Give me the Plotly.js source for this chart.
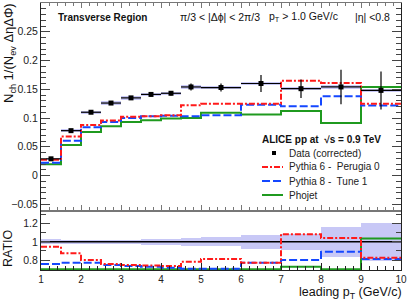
<!DOCTYPE html>
<html><head><meta charset="utf-8">
<script src="https://cdn.plot.ly/plotly-3.0.1.min.js"></script>
<style>html,body{margin:0;padding:0;background:#fff}#chart{width:414px;height:300px}</style>
</head><body><div id="chart"></div>
<script>
// ---- data ----
const binEdges   = [1, 1.5, 2, 2.5, 3, 3.5, 4, 4.5, 5, 6, 7, 8, 9, 10];
const dataVals   = [0.029, 0.078, 0.110, 0.126, 0.135, 0.141, 0.143, 0.154, 0.153, 0.160, 0.151, 0.154, 0.148];
const dataStat   = [0.002, 0.002, 0.002, 0.002, 0.002, 0.003, 0.004, 0.006, 0.007, 0.015, 0.016, 0.030, 0.033];
const dataSys    = [0.002, 0.003, 0.003, 0.003, 0.003, 0.003, 0.003, 0.003, 0.003, 0.003, 0.003, 0.003, 0.003];
const pythia6    = [0.0275, 0.068, 0.088, 0.0955, 0.102, 0.103, 0.105, 0.122, 0.125, 0.125, 0.165, 0.161, 0.125];
const pythia8    = [0.022, 0.0605, 0.0837, 0.093, 0.100, 0.103, 0.1037, 0.103, 0.105, 0.123, 0.1205, 0.138, 0.1217];
const phojet     = [0.0197, 0.053, 0.0757, 0.0855, 0.093, 0.096, 0.099, 0.100, 0.109, 0.106, 0.112, 0.0914, 0.154];
const ratioBand  = [0.027, 0.025, 0.025, 0.025, 0.025, 0.03, 0.035, 0.045, 0.05, 0.075, 0.085, 0.165, 0.21];
const ratioP6    = [0.945, 0.873, 0.80, 0.755, 0.745, 0.74, 0.735, 0.78, 0.81, 0.77, 1.084, 1.043, 0.825];
const ratioP8    = [0.755, 0.77, 0.77, 0.745, 0.735, 0.727, 0.716, 0.705, 0.705, 0.77, 0.80, 0.89, 0.81];
const ratioPhojet= [0.698, 0.698, 0.698, 0.698, 0.698, 0.698, 0.698, 0.698, 0.698, 0.698, 0.727, 0.698, 1.036];
const ratioRef   = [1, 1];
const xTickVals  = [1, 2, 3, 4, 5, 6, 7, 8, 9, 10];
const ratioTicks = [0.8, 1, 1.2];
const seriesNames = ['Data (corrected)', 'Pythia 6 -  Perugia 0', 'Pythia 8 -  Tune 1', 'Phojet'];

// ---- helpers ----
const centers = dataVals.map((_, i) => (binEdges[i] + binEdges[i + 1]) / 2);
const widths  = dataVals.map((_, i) => binEdges[i + 1] - binEdges[i]);
const halfW   = widths.map(w => w / 2);
const stepY = v => v.concat([v[v.length - 1]]);

const RED = '#ff1a1a', BLUE = '#1447ff', GREEN = '#1f9a1f', BAND = 'rgba(190,190,245,0.85)';
const FONT = 'Liberation Sans, Arial, Helvetica, sans-serif';
const L = 41, R = 401, T = 3, B = 270;
const px = x => (x - L) / (R - L);
const py = y => (B - y) / (B - T);
const dashP6 = '6px,2px,2px,2px';
const dashP8 = '8px,3px';

const traces = [
  {type: 'bar', x: centers, y: dataSys.map(s => 2 * s), base: dataVals.map((v, i) => v - dataSys[i]),
   width: widths, marker: {color: BAND, line: {width: 0}}, xaxis: 'x', yaxis: 'y', hoverinfo: 'skip'},
  {type: 'scatter', mode: 'lines', x: binEdges, y: stepY(phojet), line: {shape: 'hv', color: GREEN, width: 2}, xaxis: 'x', yaxis: 'y', name: seriesNames[3]},
  {type: 'scatter', mode: 'lines', x: binEdges, y: stepY(pythia8), line: {shape: 'hv', color: BLUE, width: 2, dash: dashP8}, xaxis: 'x', yaxis: 'y', name: seriesNames[2]},
  {type: 'scatter', mode: 'lines', x: binEdges, y: stepY(pythia6), line: {shape: 'hv', color: RED, width: 2, dash: dashP6}, xaxis: 'x', yaxis: 'y', name: seriesNames[1]},
  {type: 'scatter', mode: 'markers', x: centers, y: dataVals, name: seriesNames[0],
   marker: {symbol: 'square', size: 5, color: 'black'},
   error_x: {type: 'data', array: halfW, width: 0, thickness: 1.2, color: 'black'},
   error_y: {type: 'data', array: dataStat, width: 0, thickness: 1.2, color: 'black'},
   xaxis: 'x', yaxis: 'y'},
  {type: 'bar', x: centers, y: ratioBand.map(s => 2 * s), base: ratioBand.map(s => 1 - s),
   width: widths, marker: {color: BAND, line: {width: 0}}, xaxis: 'x2', yaxis: 'y2', hoverinfo: 'skip'},
  {type: 'scatter', mode: 'lines', x: [binEdges[0], binEdges[binEdges.length - 1]], y: ratioRef, line: {color: 'black', width: 1.5}, xaxis: 'x2', yaxis: 'y2'},
  {type: 'scatter', mode: 'lines', x: binEdges, y: stepY(ratioPhojet), line: {shape: 'hv', color: GREEN, width: 2}, xaxis: 'x2', yaxis: 'y2'},
  {type: 'scatter', mode: 'lines', x: binEdges, y: stepY(ratioP8), line: {shape: 'hv', color: BLUE, width: 2, dash: dashP8}, xaxis: 'x2', yaxis: 'y2'},
  {type: 'scatter', mode: 'lines', x: binEdges, y: stepY(ratioP6), line: {shape: 'hv', color: RED, width: 2, dash: dashP6}, xaxis: 'x2', yaxis: 'y2'}
];

const split = py(210);
const tickfont = {family: FONT, size: 10.5, color: '#222'};

const ann = (text, x, y, opts) => Object.assign({text, xref: 'paper', yref: 'paper', x: px(x), y: py(y),
  showarrow: false, xanchor: 'left', yanchor: 'middle', borderpad: 0,
  font: {family: FONT, size: 10.5, color: '#111'}}, opts || {});

const annotations = [
  ann('<b>Transverse Region</b>', 57, 17, {font: {family: FONT, size: 10, color: '#111'}}),
  ann('π/3 < |Δϕ| < 2π/3', 179, 17),
  ann('p<sub>T</sub> > 1.0 GeV/c', 268, 17),
  ann('|η| <0.8', 354, 17),
  ann('<b>ALICE pp at  √s = 0.9 TeV</b>', 261, 139, {font: {family: FONT, size: 10, color: '#111'}}),
  ann(seriesNames[0], 288, 153, {font: {family: FONT, size: 10, color: '#222'}}),
  ann(seriesNames[1], 288, 167, {font: {family: FONT, size: 10, color: '#222'}}),
  ann(seriesNames[2], 288, 181, {font: {family: FONT, size: 10, color: '#222'}}),
  ann(seriesNames[3], 288, 195, {font: {family: FONT, size: 10, color: '#222'}}),
  ann('N<sub>ch</sub> 1/(N<sub>ev</sub> ΔηΔΦ)', 9, 2, {textangle: -90, xanchor: 'center', yanchor: 'top', font: {family: FONT, size: 13, color: '#111'}}),
  ann('RATIO', 8, 248, {textangle: -90, xanchor: 'center', yanchor: 'middle', font: {family: FONT, size: 12.5, color: '#111'}}),
  ann('leading p<sub>T</sub> (GeV/c)', 403, 292.5, {xanchor: 'right', font: {family: FONT, size: 12.5, color: '#111'}})
];

const shapes = [
  {type: 'line', xref: 'paper', yref: 'paper', x0: px(262), x1: px(283), y0: py(167), y1: py(167), line: {color: RED, width: 2, dash: dashP6}},
  {type: 'line', xref: 'paper', yref: 'paper', x0: px(262), x1: px(283), y0: py(181), y1: py(181), line: {color: BLUE, width: 2, dash: dashP8}},
  {type: 'line', xref: 'paper', yref: 'paper', x0: px(262), x1: px(283), y0: py(195), y1: py(195), line: {color: GREEN, width: 2}},
  {type: 'rect', xref: 'paper', yref: 'paper', x0: px(272), x1: px(276), y0: py(155), y1: py(151), fillcolor: 'black', line: {width: 0}}
];

const layout = {
  width: 414, height: 300, margin: {l: L, r: 414 - R, t: T, b: 300 - B},
  paper_bgcolor: 'white', plot_bgcolor: 'white', showlegend: false,
  barmode: 'overlay', bargap: 0,
  font: {family: FONT},
  xaxis: {domain: [0, 1], anchor: 'y', range: [1, 10], tickvals: xTickVals, showticklabels: false,
    ticks: 'inside', ticklen: 5, tickcolor: '#777', linecolor: '#777', linewidth: 1.5, mirror: 'allticks',
    showgrid: false, zeroline: false,
    minor: {dtick: 0.2, ticks: 'inside', ticklen: 3, tickcolor: '#777', showgrid: false}},
  yaxis: {domain: [split, 1], anchor: 'x', range: [-0.06, 0.3], dtick: 0.05, tick0: 0,
    ticks: 'inside', ticklen: 9, tickcolor: '#444', linecolor: '#222', linewidth: 1, mirror: 'allticks',
    showgrid: false, zeroline: false, tickfont: tickfont,
    minor: {dtick: 0.01, ticks: 'inside', ticklen: 5, tickcolor: '#444', showgrid: false}},
  xaxis2: {domain: [0, 1], anchor: 'y2', range: [1, 10], tickvals: xTickVals,
    ticks: 'inside', ticklen: 7, tickcolor: '#222', linecolor: '#222', linewidth: 1,
    showgrid: false, zeroline: false, tickfont: {family: FONT, size: 10, color: '#222'}, ticklabelstandoff: 0,
    minor: {dtick: 0.2, ticks: 'inside', ticklen: 4, tickcolor: '#222', showgrid: false}},
  yaxis2: {domain: [0, split], anchor: 'x2', range: [0.69, 1.35], tickvals: ratioTicks,
    ticks: 'inside', ticklen: 9, tickcolor: '#444', linecolor: '#222', linewidth: 1, mirror: 'allticks',
    showgrid: false, zeroline: false, tickfont: tickfont,
    minor: {dtick: 0.1, ticks: 'inside', ticklen: 5, tickcolor: '#444', showgrid: false}},
  annotations, shapes
};

Plotly.newPlot('chart', traces, layout, {staticPlot: true, displayModeBar: false});
</script>
</body></html>
